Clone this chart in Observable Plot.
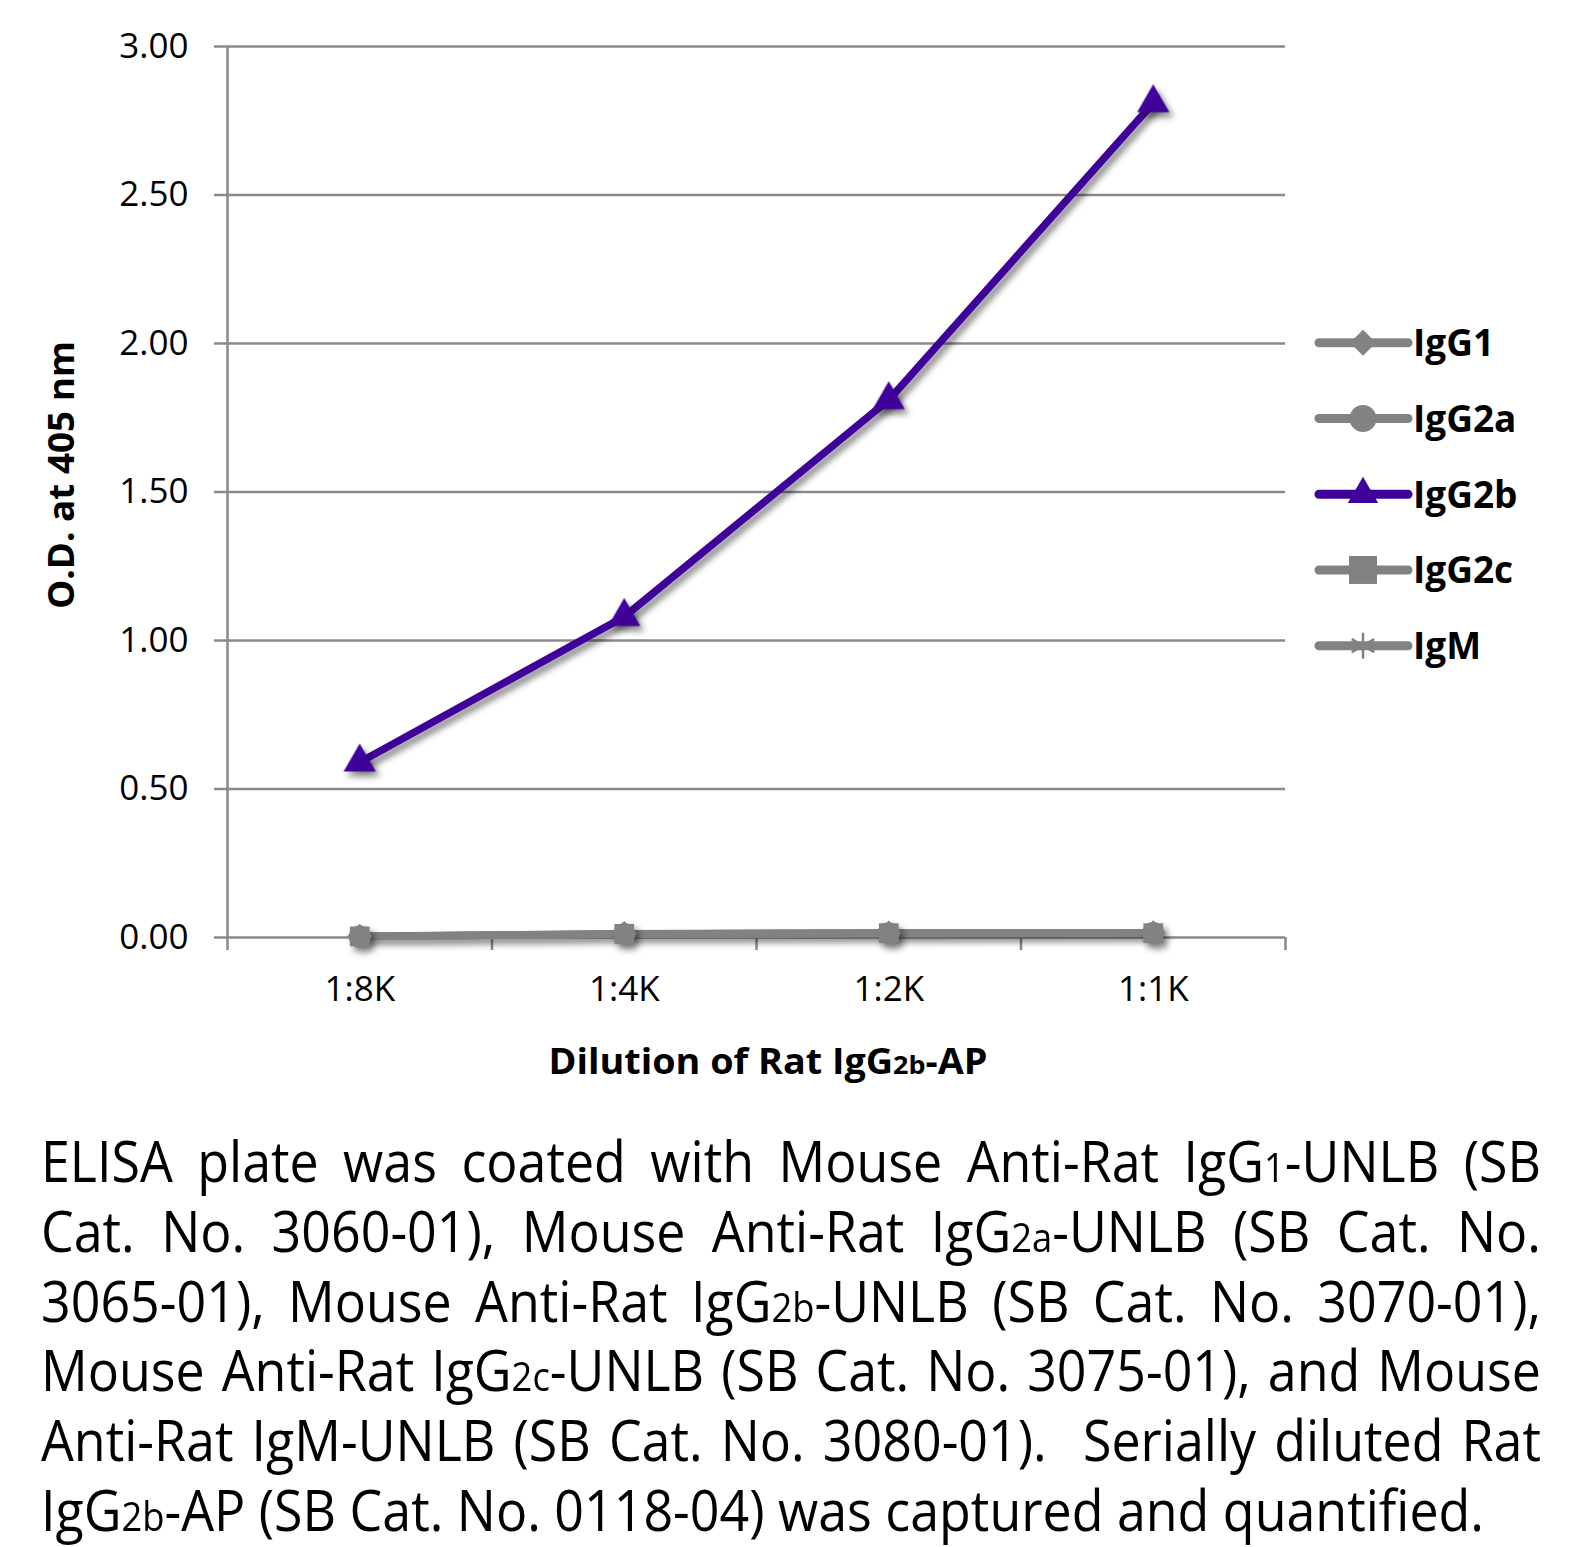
<!DOCTYPE html>
<html><head><meta charset="utf-8">
<script src="https://cdn.jsdelivr.net/npm/d3@7"></script>
<script src="https://cdn.jsdelivr.net/npm/@observablehq/plot@0.6"></script>
<style>
body{margin:0;background:#fff;}
#wrap{position:relative;width:1594px;height:1547px;overflow:hidden;background:#fff;}
#chart{position:absolute;left:0;top:0;}
#caption{position:absolute;left:41px;top:1126px;font-family:"Open Sans";font-size:57px;line-height:69.8px;color:#000;transform-origin:0 0;}
#caption .ln{text-align:justify;text-align-last:justify;height:69.8px;}
#caption .ln.last{text-align:left;text-align-last:left;}
.sub{font-size:0.7em;line-height:0;}
</style></head>
<body><div id="wrap"><div id="chart"></div><div id="caption"></div></div>
<script>
const dilutions = ["1:8K", "1:4K", "1:2K", "1:1K"];
const seriesNames = ["IgG1", "IgG2a", "IgG2b", "IgG2c", "IgM"];
const seriesColors = ["#828282", "#828282", "#40009a", "#828282", "#828282"];
const seriesSymbols = ["diamond2", "circle", "triangle", "square", "asterisk"];
const igg1 = [0.004, 0.013, 0.015, 0.016];
const igg2a = [0.003, 0.012, 0.014, 0.015];
const igg2b = [0.59, 1.08, 1.81, 2.81];
const igg2c = [0.004, 0.012, 0.015, 0.015];
const igm = [0.003, 0.011, 0.013, 0.014];
const yTicks = [0, 0.5, 1, 1.5, 2, 2.5, 3];
const yLabel = "O.D. at 405 nm";
const xLabelParts = [["Dilution of Rat IgG", false], ["2b", true], ["-AP", false]];
const captionLines = [
  "ELISA plate was coated with Mouse Anti-Rat IgG~1~-UNLB (SB",
  "Cat. No. 3060-01), Mouse Anti-Rat IgG~2a~-UNLB (SB Cat. No.",
  "3065-01), Mouse Anti-Rat IgG~2b~-UNLB (SB Cat. No. 3070-01),",
  "Mouse Anti-Rat IgG~2c~-UNLB (SB Cat. No. 3075-01), and Mouse",
  "Anti-Rat IgM-UNLB (SB Cat. No. 3080-01).&nbsp; Serially diluted Rat",
  "IgG~2b~-AP (SB Cat. No. 0118-04) was captured and quantified."
];

const valuesBySeries = [igg1, igg2a, igg2b, igg2c, igm];
const data = [];
seriesNames.forEach((s, i) => dilutions.forEach((d, j) => data.push({series: s, dilution: d, od: valuesBySeries[i][j]})));
const xPos = d => dilutions.indexOf(d.dilution) + 0.5;
const grey = data.filter(d => d.series !== "IgG2b");
const purple = data.filter(d => d.series === "IgG2b");
const boundaries = d3.range(dilutions.length + 1);
const gridColor = "#8a8a8a";

const plot = Plot.plot({
  width: 1594, height: 1090,
  marginLeft: 227, marginRight: 309, marginTop: 46, marginBottom: 153,
  style: {fontFamily: "Open Sans", fontSize: "35px", color: "#000", background: "#fff", overflow: "visible"},
  x: {domain: [0, dilutions.length], ticks: dilutions.map((d, i) => i + 0.5), tickFormat: v => dilutions[Math.floor(v)], tickSize: 0, tickPadding: 39, label: null},
  y: {domain: [0, 3], ticks: yTicks, tickFormat: d3.format(".2f"), tickSize: 0, tickPadding: 39, label: null},
  color: {domain: seriesNames, range: seriesColors},
  symbol: {domain: seriesNames, range: seriesSymbols},
  marks: [
    Plot.ruleY(yTicks, {stroke: gridColor, strokeWidth: 2.5, insetLeft: -13}),
    Plot.ruleX([0], {stroke: gridColor, strokeWidth: 2.5}),
    Plot.ruleX(boundaries, {y1: 0, y2: 0, insetBottom: -13, stroke: gridColor, strokeWidth: 2.5}),
    Plot.line(data, {x: xPos, y: "od", z: "series", stroke: "series", strokeWidth: 7.5, strokeLinejoin: "round", strokeLinecap: "round"}),
    Plot.dot(grey, {x: xPos, y: "od", symbol: "series", fill: "series", stroke: "series", strokeWidth: 2, r: 10}),
    Plot.dot(purple, {x: xPos, y: "od", symbol: "series", fill: "series", r: 12})
  ]
});
document.getElementById("chart").appendChild(plot);

const svg = d3.select(plot);
svg.selectAll('g[aria-label="line"], g[aria-label="dot"]').style("filter", "drop-shadow(4px 5px 3px rgba(0,0,0,0.45))");

// axis titles
const xt = svg.append("text").attr("x", 768).attr("y", 1074).attr("text-anchor", "middle")
  .attr("font-family", "Open Sans").attr("font-weight", "bold").attr("font-size", 35).attr("fill", "#000")
  .attr("textLength", 439).attr("lengthAdjust", "spacingAndGlyphs");
xLabelParts.forEach(([t, sub]) => xt.append("tspan").attr("font-size", sub ? 25 : 35).text(t));
svg.append("text").attr("transform", "translate(74,475) rotate(-90)").attr("text-anchor", "middle")
  .attr("font-family", "Open Sans").attr("font-weight", "bold").attr("font-size", 35).attr("fill", "#000")
  .attr("textLength", 268).attr("lengthAdjust", "spacingAndGlyphs").text(yLabel);

// legend
const symMap = {diamond2: d3.symbolDiamond2, circle: d3.symbolCircle, triangle: d3.symbolTriangle, square: d3.symbolSquare, asterisk: d3.symbolAsterisk};
const symSize = {diamond2: 431, circle: 572, triangle: 400, square: 784, asterisk: 478};
const lg = svg.append("g");
seriesNames.forEach((s, i) => {
  const y = 342.7 + i * 75.75;
  const c = seriesColors[i];
  const sym = seriesSymbols[i];
  lg.append("line").attr("x1", 1319).attr("x2", 1408).attr("y1", y).attr("y2", y)
    .attr("stroke", c).attr("stroke-width", 9).attr("stroke-linecap", "round");
  const p = lg.append("path").attr("transform", `translate(1363,${y})`).attr("d", d3.symbol(symMap[sym], symSize[sym])());
  if (sym === "asterisk") p.attr("fill", "none").attr("stroke", c).attr("stroke-width", 2.5);
  else p.attr("fill", c);
  lg.append("text").attr("x", 1413).attr("y", y).attr("dy", "0.36em").attr("text-anchor", "start")
    .attr("font-family", "Open Sans").attr("font-weight", "bold").attr("font-size", 37).attr("fill", "#000").text(s);
});

// caption
const cap = document.getElementById("caption");
captionLines.forEach((t, i) => {
  const div = document.createElement("div");
  div.className = "ln" + (i === captionLines.length - 1 ? " last" : "");
  div.innerHTML = t.replace(/~([^~]+)~/g, '<span class="sub">$1</span>');
  cap.appendChild(div);
});
const widths = Array.from(cap.children).map(div => {
  const s = document.createElement("span");
  s.style.whiteSpace = "nowrap";
  s.innerHTML = div.innerHTML;
  cap.appendChild(s);
  const w = s.getBoundingClientRect().width;
  s.remove();
  return w;
});
let k = 1443 / widths[widths.length - 1];
widths.slice(0, -1).forEach(w => { k = Math.min(k, 1499 / w); });
cap.style.width = (1500 / k) + "px";
cap.style.transform = `scaleX(${k})`;
</script>
</body></html>
